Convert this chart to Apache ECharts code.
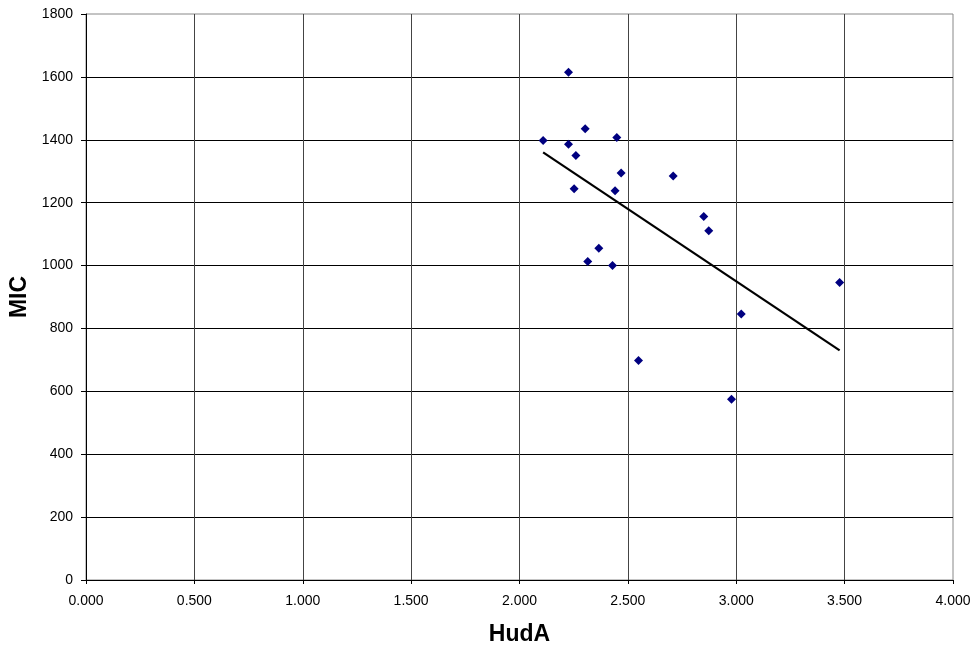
<!DOCTYPE html>
<html><head><meta charset="utf-8">
<script src="https://cdn.jsdelivr.net/npm/echarts@6/dist/echarts.min.js"></script>
<style>html,body{margin:0;padding:0;background:#fff}#c{width:975px;height:647px}</style>
</head><body><div id="c"></div>
<script>
var hudA = [2.226, 2.303, 2.109, 2.449, 2.226, 2.260, 2.469, 2.709, 2.252, 2.441, 2.850, 2.873, 2.366, 2.315, 2.429, 3.477, 3.023, 2.549, 2.978];
var mic  = [1615, 1435, 1398, 1407, 1386, 1350, 1294, 1285, 1244, 1238, 1156, 1111, 1055, 1013, 1000, 946, 846, 698, 575];
var trendX = [2.109, 3.477];
var trendY = [1360, 730];

var pts = hudA.map(function(x, i){ return [x, mic[i]]; });
var trend = trendX.map(function(x, i){ return [x, trendY[i]]; });

var font = 'Liberation Sans, Arial, sans-serif';
var chart = echarts.init(document.getElementById('c'), null, {renderer:'canvas'});
chart.setOption({
  animation: false,
  backgroundColor: '#fff',
  grid: {left: 86, top: 14, width: 867, height: 566, containLabel: false, outerBoundsMode: 'none',
         show: true, borderColor: '#888', borderWidth: 1, backgroundColor: 'transparent'},
  xAxis: {
    type: 'value', min: 0, max: 4, interval: 0.5,
    name: 'HudA', nameLocation: 'middle', nameGap: 43,
    nameTextStyle: {fontFamily: font, fontWeight: 'bold', fontSize: 23, color: '#000'},
    axisLine: {show: true, onZero: false, lineStyle: {color: '#000', width: 1}},
    axisTick: {show: true, length: 4, lineStyle: {color: '#000'}},
    axisLabel: {fontFamily: font, fontSize: 14, color: '#000', margin: 14,
      formatter: function(v){ return v.toFixed(3); }},
    splitLine: {show: true, showMaxLine: false, lineStyle: {color: '#444', width: 1}}
  },
  yAxis: {
    type: 'value', min: 0, max: 1800, interval: 200,
    name: 'MIC', nameLocation: 'middle', nameGap: 55,
    nameTextStyle: {fontFamily: font, fontWeight: 'bold', fontSize: 23, color: '#000'},
    axisLine: {show: true, onZero: false, lineStyle: {color: '#000', width: 1}},
    axisTick: {show: true, length: 5, lineStyle: {color: '#000'}},
    axisLabel: {fontFamily: font, fontSize: 14, color: '#000', margin: 13,
      formatter: function(v){ return String(v); }},
    splitLine: {show: true, showMaxLine: false, lineStyle: {color: '#000', width: 1}}
  },
  series: [
    {type: 'scatter', data: pts, symbol: 'diamond', symbolSize: 9,
     itemStyle: {color: '#000080', opacity: 1}, z: 3},
    {type: 'line', data: trend, symbol: 'none', lineStyle: {color: '#000', width: 2.2}, z: 2}
  ]
});
</script></body></html>
